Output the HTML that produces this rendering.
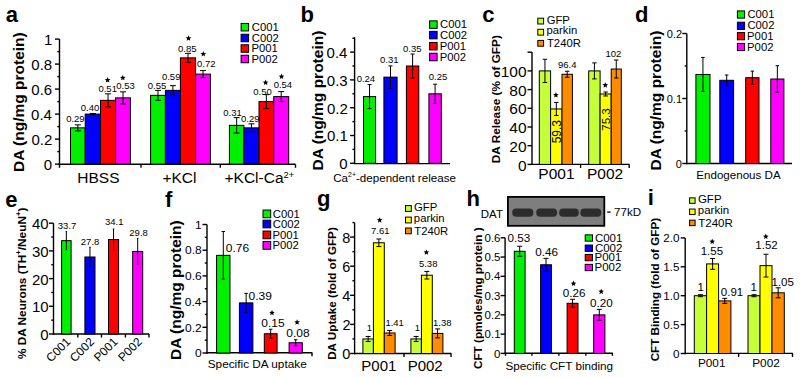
<!DOCTYPE html>
<html><head><meta charset="utf-8"><title>Figure</title>
<style>
html,body{margin:0;padding:0;background:#fff;}
svg{display:block;}
text{font-family:"Liberation Sans", sans-serif;}
</style></head>
<body>
<svg width="800" height="378" viewBox="0 0 800 378" font-family='"Liberation Sans", sans-serif'>
<rect x="0" y="0" width="800" height="378" fill="#fff"/>
<text transform="translate(5.86,22.3)" font-size="22" font-weight="bold" fill="#000" >a</text>
<line x1="59.5" y1="39.1" x2="59.5" y2="164.8" stroke="#000" stroke-width="1.4"/>
<line x1="55" y1="164.1" x2="59.5" y2="164.1" stroke="#000" stroke-width="1.4"/>
<line x1="55" y1="139.1" x2="59.5" y2="139.1" stroke="#000" stroke-width="1.4"/>
<line x1="55" y1="114.1" x2="59.5" y2="114.1" stroke="#000" stroke-width="1.4"/>
<line x1="55" y1="89.1" x2="59.5" y2="89.1" stroke="#000" stroke-width="1.4"/>
<line x1="55" y1="64.1" x2="59.5" y2="64.1" stroke="#000" stroke-width="1.4"/>
<line x1="55" y1="39.1" x2="59.5" y2="39.1" stroke="#000" stroke-width="1.4"/>
<line x1="57.3" y1="151.6" x2="59.5" y2="151.6" stroke="#000" stroke-width="1.4"/>
<line x1="57.3" y1="126.6" x2="59.5" y2="126.6" stroke="#000" stroke-width="1.4"/>
<line x1="57.3" y1="101.6" x2="59.5" y2="101.6" stroke="#000" stroke-width="1.4"/>
<line x1="57.3" y1="76.6" x2="59.5" y2="76.6" stroke="#000" stroke-width="1.4"/>
<line x1="57.3" y1="51.6" x2="59.5" y2="51.6" stroke="#000" stroke-width="1.4"/>
<text transform="translate(43.74,170.08)" font-size="15" font-weight="normal" fill="#000" >0</text>
<text transform="translate(31.4,145.08)" font-size="15" font-weight="normal" fill="#000" >0.2</text>
<text transform="translate(31.09,120.08)" font-size="15" font-weight="normal" fill="#000" >0.4</text>
<text transform="translate(31.31,95.08)" font-size="15" font-weight="normal" fill="#000" >0.6</text>
<text transform="translate(31.3,70.08)" font-size="15" font-weight="normal" fill="#000" >0.8</text>
<text transform="translate(43.89,45.08)" font-size="15" font-weight="normal" fill="#000" >1</text>
<line x1="58.8" y1="164.3" x2="295.5" y2="164.3" stroke="#000" stroke-width="1.4"/>
<line x1="59.5" y1="164.3" x2="59.5" y2="167.8" stroke="#000" stroke-width="1.4"/>
<line x1="141" y1="164.3" x2="141" y2="167.8" stroke="#000" stroke-width="1.4"/>
<line x1="220.3" y1="164.3" x2="220.3" y2="167.8" stroke="#000" stroke-width="1.4"/>
<line x1="295.5" y1="164.3" x2="295.5" y2="167.8" stroke="#000" stroke-width="1.4"/>
<rect x="70.5" y="127.85" width="14.7" height="36.25" fill="#00f000" stroke="#000" stroke-width="1"/>
<line x1="77.85" y1="124.85" x2="77.85" y2="130.85" stroke="#000" stroke-width="1"/>
<line x1="74.85" y1="124.85" x2="80.85" y2="124.85" stroke="#000" stroke-width="1"/>
<line x1="74.85" y1="130.85" x2="80.85" y2="130.85" stroke="#000" stroke-width="1"/>
<rect x="85.2" y="114.1" width="15.3" height="50" fill="#0000ff" stroke="#000" stroke-width="1"/>
<line x1="92.85" y1="113.5" x2="92.85" y2="114.7" stroke="#000" stroke-width="1"/>
<line x1="89.85" y1="113.5" x2="95.85" y2="113.5" stroke="#000" stroke-width="1"/>
<line x1="89.85" y1="114.7" x2="95.85" y2="114.7" stroke="#000" stroke-width="1"/>
<rect x="100.5" y="100.35" width="15.1" height="63.75" fill="#ff0000" stroke="#000" stroke-width="1"/>
<line x1="108.05" y1="93.85" x2="108.05" y2="106.85" stroke="#000" stroke-width="1"/>
<line x1="105.05" y1="93.85" x2="111.05" y2="93.85" stroke="#000" stroke-width="1"/>
<line x1="105.05" y1="106.85" x2="111.05" y2="106.85" stroke="#000" stroke-width="1"/>
<rect x="115.6" y="97.85" width="14.8" height="66.25" fill="#ff00ff" stroke="#000" stroke-width="1"/>
<line x1="123" y1="91.85" x2="123" y2="103.85" stroke="#000" stroke-width="1"/>
<line x1="120" y1="91.85" x2="126" y2="91.85" stroke="#000" stroke-width="1"/>
<line x1="120" y1="103.85" x2="126" y2="103.85" stroke="#000" stroke-width="1"/>
<rect x="150.6" y="95.35" width="14.8" height="68.75" fill="#00f000" stroke="#000" stroke-width="1"/>
<line x1="158" y1="90.35" x2="158" y2="100.35" stroke="#000" stroke-width="1"/>
<line x1="155" y1="90.35" x2="161" y2="90.35" stroke="#000" stroke-width="1"/>
<line x1="155" y1="100.35" x2="161" y2="100.35" stroke="#000" stroke-width="1"/>
<rect x="165.4" y="90.35" width="15" height="73.75" fill="#0000ff" stroke="#000" stroke-width="1"/>
<line x1="172.9" y1="85.65" x2="172.9" y2="95.05" stroke="#000" stroke-width="1"/>
<line x1="169.9" y1="85.65" x2="175.9" y2="85.65" stroke="#000" stroke-width="1"/>
<line x1="169.9" y1="95.05" x2="175.9" y2="95.05" stroke="#000" stroke-width="1"/>
<rect x="180.4" y="57.85" width="15.2" height="106.25" fill="#ff0000" stroke="#000" stroke-width="1"/>
<line x1="188" y1="53.35" x2="188" y2="62.35" stroke="#000" stroke-width="1"/>
<line x1="185" y1="53.35" x2="191" y2="53.35" stroke="#000" stroke-width="1"/>
<line x1="185" y1="62.35" x2="191" y2="62.35" stroke="#000" stroke-width="1"/>
<rect x="195.6" y="74.1" width="14.8" height="90" fill="#ff00ff" stroke="#000" stroke-width="1"/>
<line x1="203" y1="70.6" x2="203" y2="77.6" stroke="#000" stroke-width="1"/>
<line x1="200" y1="70.6" x2="206" y2="70.6" stroke="#000" stroke-width="1"/>
<line x1="200" y1="77.6" x2="206" y2="77.6" stroke="#000" stroke-width="1"/>
<rect x="229.4" y="125.35" width="14.5" height="38.75" fill="#00f000" stroke="#000" stroke-width="1"/>
<line x1="236.65" y1="117.65" x2="236.65" y2="133.05" stroke="#000" stroke-width="1"/>
<line x1="233.65" y1="117.65" x2="239.65" y2="117.65" stroke="#000" stroke-width="1"/>
<line x1="233.65" y1="133.05" x2="239.65" y2="133.05" stroke="#000" stroke-width="1"/>
<rect x="243.9" y="127.85" width="15.1" height="36.25" fill="#0000ff" stroke="#000" stroke-width="1"/>
<line x1="251.45" y1="123.85" x2="251.45" y2="131.85" stroke="#000" stroke-width="1"/>
<line x1="248.45" y1="123.85" x2="254.45" y2="123.85" stroke="#000" stroke-width="1"/>
<line x1="248.45" y1="131.85" x2="254.45" y2="131.85" stroke="#000" stroke-width="1"/>
<rect x="259" y="101.6" width="14.7" height="62.5" fill="#ff0000" stroke="#000" stroke-width="1"/>
<line x1="266.35" y1="94.6" x2="266.35" y2="108.6" stroke="#000" stroke-width="1"/>
<line x1="263.35" y1="94.6" x2="269.35" y2="94.6" stroke="#000" stroke-width="1"/>
<line x1="263.35" y1="108.6" x2="269.35" y2="108.6" stroke="#000" stroke-width="1"/>
<rect x="273.7" y="96.6" width="15" height="67.5" fill="#ff00ff" stroke="#000" stroke-width="1"/>
<line x1="281.2" y1="91.6" x2="281.2" y2="101.6" stroke="#000" stroke-width="1"/>
<line x1="278.2" y1="91.6" x2="284.2" y2="91.6" stroke="#000" stroke-width="1"/>
<line x1="278.2" y1="101.6" x2="284.2" y2="101.6" stroke="#000" stroke-width="1"/>
<text transform="translate(66.13,122.3)" font-size="9.5" font-weight="normal" fill="#000" >0.29</text>
<text transform="translate(80.73,110.6)" font-size="9.5" font-weight="normal" fill="#000" >0.40</text>
<text transform="translate(98.43,91.7)" font-size="9.5" font-weight="normal" fill="#000" >0.51</text>
<text transform="translate(116.23,89.4)" font-size="9.5" font-weight="normal" fill="#000" >0.53</text>
<text transform="translate(147.83,88.5)" font-size="9.5" font-weight="normal" fill="#000" >0.55</text>
<text transform="translate(161.93,80.2)" font-size="9.5" font-weight="normal" fill="#000" >0.59</text>
<text transform="translate(178.03,51.5)" font-size="9.5" font-weight="normal" fill="#000" >0.85</text>
<text transform="translate(197.03,67)" font-size="9.5" font-weight="normal" fill="#000" >0.72</text>
<text transform="translate(223.33,115.9)" font-size="9.5" font-weight="normal" fill="#000" >0.31</text>
<text transform="translate(241.03,121.5)" font-size="9.5" font-weight="normal" fill="#000" >0.29</text>
<text transform="translate(253.33,95)" font-size="9.5" font-weight="normal" fill="#000" >0.50</text>
<text transform="translate(273.63,87.9)" font-size="9.5" font-weight="normal" fill="#000" >0.54</text>
<polygon points="107.6,77.1 108.39,79.01 110.45,79.17 108.88,80.52 109.36,82.53 107.6,81.45 105.84,82.53 106.32,80.52 104.75,79.17 106.81,79.01" fill="#000"/>
<polygon points="122.8,74.9 123.59,76.81 125.65,76.97 124.08,78.32 124.56,80.33 122.8,79.25 121.04,80.33 121.52,78.32 119.95,76.97 122.01,76.81" fill="#000"/>
<polygon points="188.5,35.3 189.29,37.21 191.35,37.37 189.78,38.72 190.26,40.73 188.5,39.65 186.74,40.73 187.22,38.72 185.65,37.37 187.71,37.21" fill="#000"/>
<polygon points="203.3,51 204.09,52.91 206.15,53.07 204.58,54.42 205.06,56.43 203.3,55.35 201.54,56.43 202.02,54.42 200.45,53.07 202.51,52.91" fill="#000"/>
<polygon points="265.6,79.6 266.39,81.51 268.45,81.67 266.88,83.02 267.36,85.03 265.6,83.95 263.84,85.03 264.32,83.02 262.75,81.67 264.81,81.51" fill="#000"/>
<polygon points="281.5,73.6 282.29,75.51 284.35,75.67 282.78,77.02 283.26,79.03 281.5,77.95 279.74,79.03 280.22,77.02 278.65,75.67 280.71,75.51" fill="#000"/>
<rect x="241.1" y="23.45" width="7.5" height="7.5" fill="#00f000" stroke="#000" stroke-width="1"/>
<text transform="translate(251.83,30.82) scale(1,0.93)" font-size="11.3" font-weight="normal" fill="#000" >C001</text>
<rect x="241.1" y="34.25" width="7.5" height="7.5" fill="#0000ff" stroke="#000" stroke-width="1"/>
<text transform="translate(251.83,41.62) scale(1,0.93)" font-size="11.3" font-weight="normal" fill="#000" >C002</text>
<rect x="241.1" y="44.75" width="7.5" height="7.5" fill="#ff0000" stroke="#000" stroke-width="1"/>
<text transform="translate(251.47,52.12) scale(1,0.93)" font-size="11.3" font-weight="normal" fill="#000" >P001</text>
<rect x="241.1" y="55.25" width="7.5" height="7.5" fill="#ff00ff" stroke="#000" stroke-width="1"/>
<text transform="translate(251.47,62.62) scale(1,0.93)" font-size="11.3" font-weight="normal" fill="#000" >P002</text>
<text transform="translate(77.33,182.5)" font-size="15.5" font-weight="normal" fill="#000" >HBSS</text>
<text transform="translate(162.44,182.5)" font-size="15.5" font-weight="normal" fill="#000" >+KCl</text>
<text transform="translate(224.54,182.5)" font-size="15.5" font-weight="normal"><tspan>+KCl-Ca</tspan><tspan font-size="9.3" dy="-4.34">2+</tspan></text>
<text transform="translate(23.6,171) rotate(-90) scale(1,1)" x="-1.04" y="0" font-size="15.5" font-weight="bold">DA (ng/mg protein)</text>
<text transform="translate(300.55,22.4)" font-size="22" font-weight="bold" fill="#000" >b</text>
<line x1="354.6" y1="37.2" x2="354.6" y2="164" stroke="#000" stroke-width="1.4"/>
<line x1="350.1" y1="163.3" x2="354.6" y2="163.3" stroke="#000" stroke-width="1.4"/>
<line x1="350.1" y1="135.5" x2="354.6" y2="135.5" stroke="#000" stroke-width="1.4"/>
<line x1="350.1" y1="107.7" x2="354.6" y2="107.7" stroke="#000" stroke-width="1.4"/>
<line x1="350.1" y1="79.9" x2="354.6" y2="79.9" stroke="#000" stroke-width="1.4"/>
<line x1="350.1" y1="52.1" x2="354.6" y2="52.1" stroke="#000" stroke-width="1.4"/>
<line x1="352.4" y1="149.4" x2="354.6" y2="149.4" stroke="#000" stroke-width="1.4"/>
<line x1="352.4" y1="121.6" x2="354.6" y2="121.6" stroke="#000" stroke-width="1.4"/>
<line x1="352.4" y1="93.8" x2="354.6" y2="93.8" stroke="#000" stroke-width="1.4"/>
<line x1="352.4" y1="66" x2="354.6" y2="66" stroke="#000" stroke-width="1.4"/>
<line x1="352.4" y1="38.2" x2="354.6" y2="38.2" stroke="#000" stroke-width="1.4"/>
<text transform="translate(339.24,169.29)" font-size="15" font-weight="normal" fill="#000" >0</text>
<text transform="translate(326.88,141.49)" font-size="15" font-weight="normal" fill="#000" >0.1</text>
<text transform="translate(326.9,113.69)" font-size="15" font-weight="normal" fill="#000" >0.2</text>
<text transform="translate(326.81,85.89)" font-size="15" font-weight="normal" fill="#000" >0.3</text>
<text transform="translate(326.59,58.09)" font-size="15" font-weight="normal" fill="#000" >0.4</text>
<line x1="353.9" y1="163.6" x2="450.1" y2="163.6" stroke="#000" stroke-width="1.4"/>
<rect x="363.5" y="96.58" width="12.1" height="66.72" fill="#00f000" stroke="#000" stroke-width="1"/>
<line x1="369.55" y1="84.58" x2="369.55" y2="108.58" stroke="#000" stroke-width="1"/>
<line x1="367.55" y1="84.58" x2="371.55" y2="84.58" stroke="#000" stroke-width="1"/>
<line x1="367.55" y1="108.58" x2="371.55" y2="108.58" stroke="#000" stroke-width="1"/>
<rect x="383.9" y="77.12" width="13.2" height="86.18" fill="#0000ff" stroke="#000" stroke-width="1"/>
<line x1="390.5" y1="65.92" x2="390.5" y2="88.32" stroke="#000" stroke-width="1"/>
<line x1="388.5" y1="65.92" x2="392.5" y2="65.92" stroke="#000" stroke-width="1"/>
<line x1="388.5" y1="88.32" x2="392.5" y2="88.32" stroke="#000" stroke-width="1"/>
<rect x="406.4" y="66" width="12.4" height="97.3" fill="#ff0000" stroke="#000" stroke-width="1"/>
<line x1="412.6" y1="54" x2="412.6" y2="78" stroke="#000" stroke-width="1"/>
<line x1="410.6" y1="54" x2="414.6" y2="54" stroke="#000" stroke-width="1"/>
<line x1="410.6" y1="78" x2="414.6" y2="78" stroke="#000" stroke-width="1"/>
<rect x="428.9" y="93.8" width="12.4" height="69.5" fill="#ff00ff" stroke="#000" stroke-width="1"/>
<line x1="435.1" y1="84.2" x2="435.1" y2="103.4" stroke="#000" stroke-width="1"/>
<line x1="433.1" y1="84.2" x2="437.1" y2="84.2" stroke="#000" stroke-width="1"/>
<line x1="433.1" y1="103.4" x2="437.1" y2="103.4" stroke="#000" stroke-width="1"/>
<text transform="translate(356.63,81.7)" font-size="9.5" font-weight="normal" fill="#000" >0.24</text>
<text transform="translate(380.03,62.8)" font-size="9.5" font-weight="normal" fill="#000" >0.31</text>
<text transform="translate(403.03,52)" font-size="9.5" font-weight="normal" fill="#000" >0.35</text>
<text transform="translate(428.73,80.4)" font-size="9.5" font-weight="normal" fill="#000" >0.25</text>
<rect x="429.6" y="20.85" width="7.5" height="7.5" fill="#00f000" stroke="#000" stroke-width="1"/>
<text transform="translate(440.03,28.22) scale(1,0.93)" font-size="11.3" font-weight="normal" fill="#000" >C001</text>
<rect x="429.6" y="31.35" width="7.5" height="7.5" fill="#0000ff" stroke="#000" stroke-width="1"/>
<text transform="translate(440.03,38.72) scale(1,0.93)" font-size="11.3" font-weight="normal" fill="#000" >C002</text>
<rect x="429.6" y="42.45" width="7.5" height="7.5" fill="#ff0000" stroke="#000" stroke-width="1"/>
<text transform="translate(439.67,49.82) scale(1,0.93)" font-size="11.3" font-weight="normal" fill="#000" >P001</text>
<rect x="429.6" y="53.25" width="7.5" height="7.5" fill="#ff00ff" stroke="#000" stroke-width="1"/>
<text transform="translate(439.67,60.62) scale(1,0.93)" font-size="11.3" font-weight="normal" fill="#000" >P002</text>
<text transform="translate(333.21,181.5)" font-size="11.6" font-weight="normal"><tspan>Ca</tspan><tspan font-size="6.96" dy="-4.18">2+</tspan><tspan dy="4.18">-dependent release</tspan></text>
<text transform="translate(322.6,169.4) rotate(-90) scale(1,1)" x="-1.04" y="0" font-size="15.5" font-weight="bold">DA (ng/mg protein)</text>
<text transform="translate(482.14,22.2)" font-size="22" font-weight="bold" fill="#000" >c</text>
<line x1="532" y1="52" x2="532" y2="165.1" stroke="#000" stroke-width="1.4"/>
<line x1="527.5" y1="164.4" x2="532" y2="164.4" stroke="#000" stroke-width="1.4"/>
<line x1="527.5" y1="145.7" x2="532" y2="145.7" stroke="#000" stroke-width="1.4"/>
<line x1="527.5" y1="127" x2="532" y2="127" stroke="#000" stroke-width="1.4"/>
<line x1="527.5" y1="108.3" x2="532" y2="108.3" stroke="#000" stroke-width="1.4"/>
<line x1="527.5" y1="89.6" x2="532" y2="89.6" stroke="#000" stroke-width="1.4"/>
<line x1="527.5" y1="70.9" x2="532" y2="70.9" stroke="#000" stroke-width="1.4"/>
<line x1="527.5" y1="52.2" x2="532" y2="52.2" stroke="#000" stroke-width="1.4"/>
<text transform="translate(517.99,170.58)" font-size="15.5" font-weight="normal" fill="#000" >0</text>
<text transform="translate(509.36,151.88)" font-size="15.5" font-weight="normal" fill="#000" >20</text>
<text transform="translate(509.36,133.18)" font-size="15.5" font-weight="normal" fill="#000" >40</text>
<text transform="translate(509.36,114.48)" font-size="15.5" font-weight="normal" fill="#000" >60</text>
<text transform="translate(509.36,95.78)" font-size="15.5" font-weight="normal" fill="#000" >80</text>
<text transform="translate(500.74,77.08)" font-size="15.5" font-weight="normal" fill="#000" >100</text>
<line x1="531.3" y1="164.4" x2="629.5" y2="164.4" stroke="#000" stroke-width="1.4"/>
<line x1="580.6" y1="164.4" x2="580.6" y2="167.9" stroke="#000" stroke-width="1.4"/>
<line x1="629.2" y1="164.4" x2="629.2" y2="167.9" stroke="#000" stroke-width="1.4"/>
<rect x="539.3" y="70.9" width="11.3" height="93.5" fill="#c4ff3a" stroke="#000" stroke-width="1"/>
<line x1="544.95" y1="59.3" x2="544.95" y2="82.5" stroke="#000" stroke-width="1"/>
<line x1="542.7" y1="59.3" x2="547.2" y2="59.3" stroke="#000" stroke-width="1"/>
<line x1="542.7" y1="82.5" x2="547.2" y2="82.5" stroke="#000" stroke-width="1"/>
<rect x="550.6" y="108.95" width="11.4" height="55.45" fill="#ffff00" stroke="#000" stroke-width="1"/>
<line x1="556.3" y1="102.45" x2="556.3" y2="115.45" stroke="#000" stroke-width="1"/>
<line x1="554.05" y1="102.45" x2="558.55" y2="102.45" stroke="#000" stroke-width="1"/>
<line x1="554.05" y1="115.45" x2="558.55" y2="115.45" stroke="#000" stroke-width="1"/>
<rect x="562" y="74.27" width="10.4" height="90.13" fill="#ff8c00" stroke="#000" stroke-width="1"/>
<line x1="567.2" y1="71.27" x2="567.2" y2="77.27" stroke="#000" stroke-width="1"/>
<line x1="564.95" y1="71.27" x2="569.45" y2="71.27" stroke="#000" stroke-width="1"/>
<line x1="564.95" y1="77.27" x2="569.45" y2="77.27" stroke="#000" stroke-width="1"/>
<rect x="588.7" y="70.9" width="11.4" height="93.5" fill="#c4ff3a" stroke="#000" stroke-width="1"/>
<line x1="594.4" y1="62.9" x2="594.4" y2="78.9" stroke="#000" stroke-width="1"/>
<line x1="592.15" y1="62.9" x2="596.65" y2="62.9" stroke="#000" stroke-width="1"/>
<line x1="592.15" y1="78.9" x2="596.65" y2="78.9" stroke="#000" stroke-width="1"/>
<rect x="600.1" y="93.99" width="11.1" height="70.41" fill="#ffff00" stroke="#000" stroke-width="1"/>
<line x1="605.65" y1="91.99" x2="605.65" y2="95.99" stroke="#000" stroke-width="1"/>
<line x1="603.4" y1="91.99" x2="607.9" y2="91.99" stroke="#000" stroke-width="1"/>
<line x1="603.4" y1="95.99" x2="607.9" y2="95.99" stroke="#000" stroke-width="1"/>
<rect x="611.2" y="69.03" width="10.1" height="95.37" fill="#ff8c00" stroke="#000" stroke-width="1"/>
<line x1="616.25" y1="60.03" x2="616.25" y2="78.03" stroke="#000" stroke-width="1"/>
<line x1="614" y1="60.03" x2="618.5" y2="60.03" stroke="#000" stroke-width="1"/>
<line x1="614" y1="78.03" x2="618.5" y2="78.03" stroke="#000" stroke-width="1"/>
<text transform="translate(557.95,68.4)" font-size="9.5" font-weight="normal" fill="#000" >96.4</text>
<text transform="translate(605.48,57.3)" font-size="9.5" font-weight="normal" fill="#000" >102</text>
<text transform="translate(560.6,142.9) rotate(-90) scale(1,1)" x="-0.48" y="0" font-size="12" font-weight="normal">59.3</text>
<text transform="translate(610.3,130.2) rotate(-90) scale(1,1)" x="-0.59" y="0" font-size="11.6" font-weight="normal">75.3</text>
<polygon points="555.9,92.1 556.69,94.01 558.75,94.17 557.18,95.52 557.66,97.53 555.9,96.45 554.14,97.53 554.62,95.52 553.05,94.17 555.11,94.01" fill="#000"/>
<polygon points="605.3,82.2 606.09,84.11 608.15,84.27 606.58,85.62 607.06,87.63 605.3,86.55 603.54,87.63 604.02,85.62 602.45,84.27 604.51,84.11" fill="#000"/>
<rect x="537.8" y="18.2" width="5.8" height="5.8" fill="#c4ff3a" stroke="#000" stroke-width="1"/>
<text transform="translate(546.63,24)" font-size="11.3" font-weight="normal" fill="#000" >GFP</text>
<rect x="537.8" y="29.3" width="5.8" height="5.8" fill="#ffff00" stroke="#000" stroke-width="1"/>
<text transform="translate(546.47,34.3)" font-size="11.3" font-weight="normal" fill="#000" >parkin</text>
<rect x="537.8" y="40.4" width="5.8" height="5.8" fill="#ff8c00" stroke="#000" stroke-width="1"/>
<text transform="translate(546.95,47.3)" font-size="11.3" font-weight="normal" fill="#000" >T240R</text>
<text transform="translate(538.33,179)" font-size="15.5" font-weight="normal" fill="#000" >P001</text>
<text transform="translate(586.93,179)" font-size="15.5" font-weight="normal" fill="#000" >P002</text>
<text transform="translate(500.2,162.4) rotate(-90) scale(1,1)" x="-0.79" y="0" font-size="11.8" font-weight="bold">DA Release (% of GFP)</text>
<text transform="translate(635.1,22.2)" font-size="22" font-weight="bold" fill="#000" >d</text>
<line x1="686.8" y1="33.5" x2="686.8" y2="164.2" stroke="#000" stroke-width="1.4"/>
<line x1="682.3" y1="163.5" x2="686.8" y2="163.5" stroke="#000" stroke-width="1.4"/>
<line x1="682.3" y1="98.5" x2="686.8" y2="98.5" stroke="#000" stroke-width="1.4"/>
<line x1="682.3" y1="33.5" x2="686.8" y2="33.5" stroke="#000" stroke-width="1.4"/>
<line x1="684.6" y1="131" x2="686.8" y2="131" stroke="#000" stroke-width="1.4"/>
<line x1="684.6" y1="66" x2="686.8" y2="66" stroke="#000" stroke-width="1.4"/>
<text transform="translate(675.81,167.89)" font-size="11" font-weight="normal" fill="#000" >0</text>
<text transform="translate(666.75,102.89)" font-size="11" font-weight="normal" fill="#000" >0.1</text>
<text transform="translate(666.76,37.89)" font-size="11" font-weight="normal" fill="#000" >0.2</text>
<line x1="686.1" y1="163.5" x2="792" y2="163.5" stroke="#000" stroke-width="1.4"/>
<rect x="695.9" y="74.45" width="14.1" height="89.05" fill="#00f000" stroke="#000" stroke-width="1"/>
<line x1="702.95" y1="57.45" x2="702.95" y2="91.45" stroke="#000" stroke-width="1"/>
<line x1="701.2" y1="57.45" x2="704.7" y2="57.45" stroke="#000" stroke-width="1"/>
<line x1="701.2" y1="91.45" x2="704.7" y2="91.45" stroke="#000" stroke-width="1"/>
<rect x="719.8" y="80.3" width="13.8" height="83.2" fill="#0000ff" stroke="#000" stroke-width="1"/>
<line x1="726.7" y1="75" x2="726.7" y2="85.6" stroke="#000" stroke-width="1"/>
<line x1="724.95" y1="75" x2="728.45" y2="75" stroke="#000" stroke-width="1"/>
<line x1="724.95" y1="85.6" x2="728.45" y2="85.6" stroke="#000" stroke-width="1"/>
<rect x="745.7" y="77.7" width="13.3" height="85.8" fill="#ff0000" stroke="#000" stroke-width="1"/>
<line x1="752.35" y1="71.1" x2="752.35" y2="84.3" stroke="#000" stroke-width="1"/>
<line x1="750.6" y1="71.1" x2="754.1" y2="71.1" stroke="#000" stroke-width="1"/>
<line x1="750.6" y1="84.3" x2="754.1" y2="84.3" stroke="#000" stroke-width="1"/>
<rect x="770.8" y="79" width="13.1" height="84.5" fill="#ff00ff" stroke="#000" stroke-width="1"/>
<line x1="777.35" y1="65.7" x2="777.35" y2="92.3" stroke="#000" stroke-width="1"/>
<line x1="775.6" y1="65.7" x2="779.1" y2="65.7" stroke="#000" stroke-width="1"/>
<line x1="775.6" y1="92.3" x2="779.1" y2="92.3" stroke="#000" stroke-width="1"/>
<rect x="737.4" y="10.9" width="7.2" height="7.2" fill="#00f000" stroke="#000" stroke-width="1"/>
<text transform="translate(747.43,18.12) scale(1,0.93)" font-size="11.3" font-weight="normal" fill="#000" >C001</text>
<rect x="737.4" y="22.2" width="7.2" height="7.2" fill="#0000ff" stroke="#000" stroke-width="1"/>
<text transform="translate(747.43,29.42) scale(1,0.93)" font-size="11.3" font-weight="normal" fill="#000" >C002</text>
<rect x="737.4" y="32.6" width="7.2" height="7.2" fill="#ff0000" stroke="#000" stroke-width="1"/>
<text transform="translate(747.07,39.82) scale(1,0.93)" font-size="11.3" font-weight="normal" fill="#000" >P001</text>
<rect x="737.4" y="43.4" width="7.2" height="7.2" fill="#ff00ff" stroke="#000" stroke-width="1"/>
<text transform="translate(747.07,50.62) scale(1,0.93)" font-size="11.3" font-weight="normal" fill="#000" >P002</text>
<text transform="translate(696.25,178.6)" font-size="11.6" font-weight="normal" fill="#000" >Endogenous DA</text>
<text transform="translate(661.3,169.4) rotate(-90) scale(1,1)" x="-1.04" y="0" font-size="15.5" font-weight="bold">DA (ng/mg protein)</text>
<text transform="translate(5.14,207.2)" font-size="22" font-weight="bold" fill="#000" >e</text>
<line x1="53.5" y1="223.2" x2="53.5" y2="334.7" stroke="#000" stroke-width="1.4"/>
<line x1="49" y1="334" x2="53.5" y2="334" stroke="#000" stroke-width="1.4"/>
<line x1="49" y1="306.3" x2="53.5" y2="306.3" stroke="#000" stroke-width="1.4"/>
<line x1="49" y1="278.6" x2="53.5" y2="278.6" stroke="#000" stroke-width="1.4"/>
<line x1="49" y1="250.9" x2="53.5" y2="250.9" stroke="#000" stroke-width="1.4"/>
<line x1="49" y1="223.2" x2="53.5" y2="223.2" stroke="#000" stroke-width="1.4"/>
<line x1="51.3" y1="320.15" x2="53.5" y2="320.15" stroke="#000" stroke-width="1.4"/>
<line x1="51.3" y1="292.45" x2="53.5" y2="292.45" stroke="#000" stroke-width="1.4"/>
<line x1="51.3" y1="264.75" x2="53.5" y2="264.75" stroke="#000" stroke-width="1.4"/>
<line x1="51.3" y1="237.05" x2="53.5" y2="237.05" stroke="#000" stroke-width="1.4"/>
<text transform="translate(40.34,339.99)" font-size="15" font-weight="normal" fill="#000" >0</text>
<text transform="translate(32,312.29)" font-size="15" font-weight="normal" fill="#000" >10</text>
<text transform="translate(32,284.59)" font-size="15" font-weight="normal" fill="#000" >20</text>
<text transform="translate(32,256.88)" font-size="15" font-weight="normal" fill="#000" >30</text>
<text transform="translate(32,229.19)" font-size="15" font-weight="normal" fill="#000" >40</text>
<line x1="52.8" y1="334" x2="149.1" y2="334" stroke="#000" stroke-width="1.4"/>
<line x1="77.8" y1="334" x2="77.8" y2="337.5" stroke="#000" stroke-width="1.4"/>
<line x1="101.5" y1="334" x2="101.5" y2="337.5" stroke="#000" stroke-width="1.4"/>
<line x1="125.4" y1="334" x2="125.4" y2="337.5" stroke="#000" stroke-width="1.4"/>
<line x1="149" y1="334" x2="149" y2="337.5" stroke="#000" stroke-width="1.4"/>
<rect x="61.6" y="240.65" width="9.5" height="93.35" fill="#00f000" stroke="#000" stroke-width="1"/>
<line x1="66.35" y1="231.65" x2="66.35" y2="249.65" stroke="#000" stroke-width="1"/>
<line x1="65.6" y1="231.65" x2="67.1" y2="231.65" stroke="#000" stroke-width="1"/>
<line x1="65.6" y1="249.65" x2="67.1" y2="249.65" stroke="#000" stroke-width="1"/>
<rect x="84.9" y="256.99" width="10.1" height="77.01" fill="#0000ff" stroke="#000" stroke-width="1"/>
<line x1="89.95" y1="247.29" x2="89.95" y2="266.69" stroke="#000" stroke-width="1"/>
<line x1="89.2" y1="247.29" x2="90.7" y2="247.29" stroke="#000" stroke-width="1"/>
<line x1="89.2" y1="266.69" x2="90.7" y2="266.69" stroke="#000" stroke-width="1"/>
<rect x="108.5" y="239.54" width="10.1" height="94.46" fill="#ff0000" stroke="#000" stroke-width="1"/>
<line x1="113.55" y1="229.04" x2="113.55" y2="250.04" stroke="#000" stroke-width="1"/>
<line x1="112.8" y1="229.04" x2="114.3" y2="229.04" stroke="#000" stroke-width="1"/>
<line x1="112.8" y1="250.04" x2="114.3" y2="250.04" stroke="#000" stroke-width="1"/>
<rect x="132.7" y="251.45" width="10" height="82.55" fill="#ff00ff" stroke="#000" stroke-width="1"/>
<line x1="137.7" y1="238.45" x2="137.7" y2="264.45" stroke="#000" stroke-width="1"/>
<line x1="136.95" y1="238.45" x2="138.45" y2="238.45" stroke="#000" stroke-width="1"/>
<line x1="136.95" y1="264.45" x2="138.45" y2="264.45" stroke="#000" stroke-width="1"/>
<text transform="translate(57.84,229)" font-size="9.5" font-weight="normal" fill="#000" >33.7</text>
<text transform="translate(80.82,244.8)" font-size="9.5" font-weight="normal" fill="#000" >27.8</text>
<text transform="translate(105.04,225.2)" font-size="9.5" font-weight="normal" fill="#000" >34.1</text>
<text transform="translate(129.32,235.8)" font-size="9.5" font-weight="normal" fill="#000" >29.8</text>
<text transform="translate(71.3,342.5) rotate(-45)" text-anchor="end" font-size="12">C001</text>
<text transform="translate(95,342.5) rotate(-45)" text-anchor="end" font-size="12">C002</text>
<text transform="translate(118.5,342.5) rotate(-45)" text-anchor="end" font-size="12">P001</text>
<text transform="translate(142.7,342.5) rotate(-45)" text-anchor="end" font-size="12">P002</text>
<text transform="translate(26,358.8) rotate(-90)" x="-0.29" y="0" font-size="11.8" font-weight="bold"><tspan>% DA Neurons (TH</tspan><tspan font-size="7.67" dy="-4.72">+</tspan><tspan dy="4.72">/NeuN</tspan><tspan font-size="7.67" dy="-4.72">+</tspan><tspan dy="4.72">)</tspan></text>
<text transform="translate(165.12,207.2)" font-size="22" font-weight="bold" fill="#000" >f</text>
<line x1="207" y1="224.5" x2="207" y2="353.7" stroke="#000" stroke-width="1.4"/>
<line x1="202.5" y1="353" x2="207" y2="353" stroke="#000" stroke-width="1.4"/>
<line x1="202.5" y1="327.3" x2="207" y2="327.3" stroke="#000" stroke-width="1.4"/>
<line x1="202.5" y1="301.6" x2="207" y2="301.6" stroke="#000" stroke-width="1.4"/>
<line x1="202.5" y1="275.9" x2="207" y2="275.9" stroke="#000" stroke-width="1.4"/>
<line x1="202.5" y1="250.2" x2="207" y2="250.2" stroke="#000" stroke-width="1.4"/>
<line x1="202.5" y1="224.5" x2="207" y2="224.5" stroke="#000" stroke-width="1.4"/>
<line x1="204.8" y1="340.15" x2="207" y2="340.15" stroke="#000" stroke-width="1.4"/>
<line x1="204.8" y1="314.45" x2="207" y2="314.45" stroke="#000" stroke-width="1.4"/>
<line x1="204.8" y1="288.75" x2="207" y2="288.75" stroke="#000" stroke-width="1.4"/>
<line x1="204.8" y1="263.05" x2="207" y2="263.05" stroke="#000" stroke-width="1.4"/>
<line x1="204.8" y1="237.35" x2="207" y2="237.35" stroke="#000" stroke-width="1.4"/>
<text transform="translate(194.99,357.29) scale(1,0.88)" font-size="12" font-weight="normal" fill="#000" >0</text>
<text transform="translate(185.12,331.59) scale(1,0.88)" font-size="12" font-weight="normal" fill="#000" >0.2</text>
<text transform="translate(184.87,305.89) scale(1,0.88)" font-size="12" font-weight="normal" fill="#000" >0.4</text>
<text transform="translate(185.05,280.19) scale(1,0.88)" font-size="12" font-weight="normal" fill="#000" >0.6</text>
<text transform="translate(185.04,254.49) scale(1,0.88)" font-size="12" font-weight="normal" fill="#000" >0.8</text>
<text transform="translate(195.11,228.79) scale(1,0.88)" font-size="12" font-weight="normal" fill="#000" >1</text>
<line x1="206.3" y1="352.8" x2="312.3" y2="352.8" stroke="#000" stroke-width="1.4"/>
<line x1="312" y1="352.8" x2="312" y2="356.3" stroke="#000" stroke-width="1.4"/>
<rect x="216.6" y="255.34" width="13.4" height="97.66" fill="#00f000" stroke="#000" stroke-width="1"/>
<line x1="223.3" y1="231.54" x2="223.3" y2="279.14" stroke="#000" stroke-width="1"/>
<line x1="221.55" y1="231.54" x2="225.05" y2="231.54" stroke="#000" stroke-width="1"/>
<line x1="221.55" y1="279.14" x2="225.05" y2="279.14" stroke="#000" stroke-width="1"/>
<rect x="239.4" y="302.88" width="13.5" height="50.12" fill="#0000ff" stroke="#000" stroke-width="1"/>
<line x1="246.15" y1="293.38" x2="246.15" y2="312.38" stroke="#000" stroke-width="1"/>
<line x1="244.4" y1="293.38" x2="247.9" y2="293.38" stroke="#000" stroke-width="1"/>
<line x1="244.4" y1="312.38" x2="247.9" y2="312.38" stroke="#000" stroke-width="1"/>
<rect x="264.3" y="333.73" width="12.8" height="19.27" fill="#ff0000" stroke="#000" stroke-width="1"/>
<line x1="270.7" y1="329.23" x2="270.7" y2="338.23" stroke="#000" stroke-width="1"/>
<line x1="268.95" y1="329.23" x2="272.45" y2="329.23" stroke="#000" stroke-width="1"/>
<line x1="268.95" y1="338.23" x2="272.45" y2="338.23" stroke="#000" stroke-width="1"/>
<rect x="289.1" y="342.72" width="13.2" height="10.28" fill="#ff00ff" stroke="#000" stroke-width="1"/>
<line x1="295.7" y1="339.72" x2="295.7" y2="345.72" stroke="#000" stroke-width="1"/>
<line x1="293.95" y1="339.72" x2="297.45" y2="339.72" stroke="#000" stroke-width="1"/>
<line x1="293.95" y1="345.72" x2="297.45" y2="345.72" stroke="#000" stroke-width="1"/>
<text transform="translate(225.83,251.6) scale(1,0.9)" font-size="12" font-weight="normal" fill="#000" >0.76</text>
<text transform="translate(248.53,300) scale(1,0.9)" font-size="12" font-weight="normal" fill="#000" >0.39</text>
<text transform="translate(261.33,327.1) scale(1,0.9)" font-size="12" font-weight="normal" fill="#000" >0.15</text>
<text transform="translate(286.23,337.1) scale(1,0.9)" font-size="12" font-weight="normal" fill="#000" >0.08</text>
<polygon points="272,309.9 272.79,311.81 274.85,311.97 273.28,313.32 273.76,315.33 272,314.25 270.24,315.33 270.72,313.32 269.15,311.97 271.21,311.81" fill="#000"/>
<polygon points="297.1,319.3 297.89,321.21 299.95,321.37 298.38,322.72 298.86,324.73 297.1,323.65 295.34,324.73 295.82,322.72 294.25,321.37 296.31,321.21" fill="#000"/>
<rect x="263" y="210.05" width="7.7" height="7.7" fill="#00f000" stroke="#000" stroke-width="1"/>
<text transform="translate(272.83,217.52) scale(1,0.93)" font-size="11.3" font-weight="normal" fill="#000" >C001</text>
<rect x="263" y="220.15" width="7.7" height="7.7" fill="#0000ff" stroke="#000" stroke-width="1"/>
<text transform="translate(272.83,227.62) scale(1,0.93)" font-size="11.3" font-weight="normal" fill="#000" >C002</text>
<rect x="263" y="231.05" width="7.7" height="7.7" fill="#ff0000" stroke="#000" stroke-width="1"/>
<text transform="translate(272.47,238.52) scale(1,0.93)" font-size="11.3" font-weight="normal" fill="#000" >P001</text>
<rect x="263" y="241.55" width="7.7" height="7.7" fill="#ff00ff" stroke="#000" stroke-width="1"/>
<text transform="translate(272.47,249.02) scale(1,0.93)" font-size="11.3" font-weight="normal" fill="#000" >P002</text>
<text transform="translate(207.76,368) scale(1,0.85)" font-size="11.8" font-weight="normal" fill="#000" >Specific DA uptake</text>
<text transform="translate(181,359) rotate(-90) scale(1,1)" x="-1.04" y="0" font-size="15.5" font-weight="bold">DA (ng/mg protein)</text>
<text transform="translate(317.1,205.5)" font-size="22" font-weight="bold" fill="#000" >g</text>
<line x1="354.6" y1="222.7" x2="354.6" y2="354.2" stroke="#000" stroke-width="1.4"/>
<line x1="350.1" y1="353.5" x2="354.6" y2="353.5" stroke="#000" stroke-width="1.4"/>
<line x1="350.1" y1="324.4" x2="354.6" y2="324.4" stroke="#000" stroke-width="1.4"/>
<line x1="350.1" y1="295.3" x2="354.6" y2="295.3" stroke="#000" stroke-width="1.4"/>
<line x1="350.1" y1="266.2" x2="354.6" y2="266.2" stroke="#000" stroke-width="1.4"/>
<line x1="350.1" y1="237.1" x2="354.6" y2="237.1" stroke="#000" stroke-width="1.4"/>
<line x1="352.4" y1="338.95" x2="354.6" y2="338.95" stroke="#000" stroke-width="1.4"/>
<line x1="352.4" y1="309.85" x2="354.6" y2="309.85" stroke="#000" stroke-width="1.4"/>
<line x1="352.4" y1="280.75" x2="354.6" y2="280.75" stroke="#000" stroke-width="1.4"/>
<line x1="352.4" y1="251.65" x2="354.6" y2="251.65" stroke="#000" stroke-width="1.4"/>
<line x1="352.4" y1="222.55" x2="354.6" y2="222.55" stroke="#000" stroke-width="1.4"/>
<text transform="translate(342.3,359.29)" font-size="14.5" font-weight="normal" fill="#000" >0</text>
<text transform="translate(342.47,330.19)" font-size="14.5" font-weight="normal" fill="#000" >2</text>
<text transform="translate(342.16,301.09)" font-size="14.5" font-weight="normal" fill="#000" >4</text>
<text transform="translate(342.37,271.99)" font-size="14.5" font-weight="normal" fill="#000" >6</text>
<text transform="translate(342.37,242.89)" font-size="14.5" font-weight="normal" fill="#000" >8</text>
<line x1="353.9" y1="353.5" x2="451.4" y2="353.5" stroke="#000" stroke-width="1.4"/>
<line x1="404" y1="353.5" x2="404" y2="357" stroke="#000" stroke-width="1.4"/>
<line x1="451" y1="353.5" x2="451" y2="357" stroke="#000" stroke-width="1.4"/>
<rect x="362.9" y="338.95" width="10.5" height="14.55" fill="#c4ff3a" stroke="#000" stroke-width="1"/>
<line x1="368.15" y1="336.45" x2="368.15" y2="341.45" stroke="#000" stroke-width="1"/>
<line x1="365.65" y1="336.45" x2="370.65" y2="336.45" stroke="#000" stroke-width="1"/>
<line x1="365.65" y1="341.45" x2="370.65" y2="341.45" stroke="#000" stroke-width="1"/>
<rect x="373.4" y="242.77" width="10.9" height="110.73" fill="#ffff00" stroke="#000" stroke-width="1"/>
<line x1="378.85" y1="238.97" x2="378.85" y2="246.57" stroke="#000" stroke-width="1"/>
<line x1="376.35" y1="238.97" x2="381.35" y2="238.97" stroke="#000" stroke-width="1"/>
<line x1="376.35" y1="246.57" x2="381.35" y2="246.57" stroke="#000" stroke-width="1"/>
<rect x="384.3" y="332.98" width="10.8" height="20.52" fill="#ff8c00" stroke="#000" stroke-width="1"/>
<line x1="389.7" y1="330.48" x2="389.7" y2="335.48" stroke="#000" stroke-width="1"/>
<line x1="387.2" y1="330.48" x2="392.2" y2="330.48" stroke="#000" stroke-width="1"/>
<line x1="387.2" y1="335.48" x2="392.2" y2="335.48" stroke="#000" stroke-width="1"/>
<rect x="410.9" y="338.95" width="10.5" height="14.55" fill="#c4ff3a" stroke="#000" stroke-width="1"/>
<line x1="416.15" y1="336.45" x2="416.15" y2="341.45" stroke="#000" stroke-width="1"/>
<line x1="413.65" y1="336.45" x2="418.65" y2="336.45" stroke="#000" stroke-width="1"/>
<line x1="413.65" y1="341.45" x2="418.65" y2="341.45" stroke="#000" stroke-width="1"/>
<rect x="421.4" y="275.22" width="10.9" height="78.28" fill="#ffff00" stroke="#000" stroke-width="1"/>
<line x1="426.85" y1="271.42" x2="426.85" y2="279.02" stroke="#000" stroke-width="1"/>
<line x1="424.35" y1="271.42" x2="429.35" y2="271.42" stroke="#000" stroke-width="1"/>
<line x1="424.35" y1="279.02" x2="429.35" y2="279.02" stroke="#000" stroke-width="1"/>
<rect x="432.3" y="333.42" width="10.6" height="20.08" fill="#ff8c00" stroke="#000" stroke-width="1"/>
<line x1="437.6" y1="328.92" x2="437.6" y2="337.92" stroke="#000" stroke-width="1"/>
<line x1="435.1" y1="328.92" x2="440.1" y2="328.92" stroke="#000" stroke-width="1"/>
<line x1="435.1" y1="337.92" x2="440.1" y2="337.92" stroke="#000" stroke-width="1"/>
<text transform="translate(366.78,331.4)" font-size="9.5" font-weight="normal" fill="#000" >1</text>
<text transform="translate(385.38,325.7)" font-size="9.5" font-weight="normal" fill="#000" >1.41</text>
<text transform="translate(371.01,234)" font-size="9.5" font-weight="normal" fill="#000" >7.61</text>
<text transform="translate(414.78,331.4)" font-size="9.5" font-weight="normal" fill="#000" >1</text>
<text transform="translate(418.92,266.7)" font-size="9.5" font-weight="normal" fill="#000" >5.38</text>
<text transform="translate(433.08,325.7)" font-size="9.5" font-weight="normal" fill="#000" >1.38</text>
<polygon points="379.7,217.2 380.49,219.11 382.55,219.27 380.98,220.62 381.46,222.63 379.7,221.55 377.94,222.63 378.42,220.62 376.85,219.27 378.91,219.11" fill="#000"/>
<polygon points="426.4,249.4 427.19,251.31 429.25,251.47 427.68,252.82 428.16,254.83 426.4,253.75 424.64,254.83 425.12,252.82 423.55,251.47 425.61,251.31" fill="#000"/>
<rect x="405.5" y="205.6" width="5.8" height="5.8" fill="#c4ff3a" stroke="#000" stroke-width="1"/>
<text transform="translate(414.03,211)" font-size="11.3" font-weight="normal" fill="#000" >GFP</text>
<rect x="405.5" y="217.1" width="5.8" height="5.8" fill="#ffff00" stroke="#000" stroke-width="1"/>
<text transform="translate(413.87,221.6)" font-size="11.3" font-weight="normal" fill="#000" >parkin</text>
<rect x="405.5" y="228" width="5.8" height="5.8" fill="#ff8c00" stroke="#000" stroke-width="1"/>
<text transform="translate(414.35,235)" font-size="11.3" font-weight="normal" fill="#000" >T240R</text>
<text transform="translate(361.37,370.6)" font-size="15" font-weight="normal" fill="#000" >P001</text>
<text transform="translate(407.67,370.6)" font-size="15" font-weight="normal" fill="#000" >P002</text>
<text transform="translate(336,359.1) rotate(-90) scale(1,1)" x="-0.78" y="0" font-size="11.7" font-weight="bold">DA Uptake (fold of GFP)</text>
<text transform="translate(466.46,205.6)" font-size="22" font-weight="bold" fill="#000" >h</text>
<line x1="505.1" y1="237.78" x2="505.1" y2="354.1" stroke="#000" stroke-width="1.4"/>
<line x1="500.6" y1="353.4" x2="505.1" y2="353.4" stroke="#000" stroke-width="1.4"/>
<line x1="500.6" y1="334.13" x2="505.1" y2="334.13" stroke="#000" stroke-width="1.4"/>
<line x1="500.6" y1="314.86" x2="505.1" y2="314.86" stroke="#000" stroke-width="1.4"/>
<line x1="500.6" y1="295.59" x2="505.1" y2="295.59" stroke="#000" stroke-width="1.4"/>
<line x1="500.6" y1="276.32" x2="505.1" y2="276.32" stroke="#000" stroke-width="1.4"/>
<line x1="500.6" y1="257.05" x2="505.1" y2="257.05" stroke="#000" stroke-width="1.4"/>
<line x1="500.6" y1="237.78" x2="505.1" y2="237.78" stroke="#000" stroke-width="1.4"/>
<text transform="translate(494.05,357.51) scale(1,0.88)" font-size="11.5" font-weight="normal" fill="#000" >0</text>
<text transform="translate(484.57,338.24) scale(1,0.88)" font-size="11.5" font-weight="normal" fill="#000" >0.1</text>
<text transform="translate(484.59,318.97) scale(1,0.88)" font-size="11.5" font-weight="normal" fill="#000" >0.2</text>
<text transform="translate(484.52,299.7) scale(1,0.88)" font-size="11.5" font-weight="normal" fill="#000" >0.3</text>
<text transform="translate(484.35,280.43) scale(1,0.88)" font-size="11.5" font-weight="normal" fill="#000" >0.4</text>
<text transform="translate(484.5,261.16) scale(1,0.88)" font-size="11.5" font-weight="normal" fill="#000" >0.5</text>
<text transform="translate(484.52,241.89) scale(1,0.88)" font-size="11.5" font-weight="normal" fill="#000" >0.6</text>
<line x1="504.4" y1="353.3" x2="612.9" y2="353.3" stroke="#000" stroke-width="1.4"/>
<line x1="505.5" y1="353.3" x2="505.5" y2="355.8" stroke="#000" stroke-width="1.4"/>
<line x1="531.9" y1="353.3" x2="531.9" y2="355.8" stroke="#000" stroke-width="1.4"/>
<line x1="558.9" y1="353.3" x2="558.9" y2="355.8" stroke="#000" stroke-width="1.4"/>
<line x1="585.8" y1="353.3" x2="585.8" y2="355.8" stroke="#000" stroke-width="1.4"/>
<line x1="612.4" y1="353.3" x2="612.4" y2="355.8" stroke="#000" stroke-width="1.4"/>
<rect x="514.3" y="251.27" width="10.8" height="102.13" fill="#00f000" stroke="#000" stroke-width="1"/>
<line x1="519.7" y1="246.27" x2="519.7" y2="256.27" stroke="#000" stroke-width="1"/>
<line x1="517.2" y1="246.27" x2="522.2" y2="246.27" stroke="#000" stroke-width="1"/>
<line x1="517.2" y1="256.27" x2="522.2" y2="256.27" stroke="#000" stroke-width="1"/>
<rect x="540.6" y="264.76" width="10.8" height="88.64" fill="#0000ff" stroke="#000" stroke-width="1"/>
<line x1="546" y1="258.36" x2="546" y2="271.16" stroke="#000" stroke-width="1"/>
<line x1="543.5" y1="258.36" x2="548.5" y2="258.36" stroke="#000" stroke-width="1"/>
<line x1="543.5" y1="271.16" x2="548.5" y2="271.16" stroke="#000" stroke-width="1"/>
<rect x="567.1" y="303.3" width="10.9" height="50.1" fill="#ff0000" stroke="#000" stroke-width="1"/>
<line x1="572.55" y1="299.3" x2="572.55" y2="307.3" stroke="#000" stroke-width="1"/>
<line x1="570.05" y1="299.3" x2="575.05" y2="299.3" stroke="#000" stroke-width="1"/>
<line x1="570.05" y1="307.3" x2="575.05" y2="307.3" stroke="#000" stroke-width="1"/>
<rect x="593.7" y="314.86" width="11.2" height="38.54" fill="#ff00ff" stroke="#000" stroke-width="1"/>
<line x1="599.3" y1="309.36" x2="599.3" y2="320.36" stroke="#000" stroke-width="1"/>
<line x1="596.8" y1="309.36" x2="601.8" y2="309.36" stroke="#000" stroke-width="1"/>
<line x1="596.8" y1="320.36" x2="601.8" y2="320.36" stroke="#000" stroke-width="1"/>
<text transform="translate(507.54,242) scale(1,0.93)" font-size="11.7" font-weight="normal" fill="#000" >0.53</text>
<text transform="translate(535.34,256.1) scale(1,0.93)" font-size="11.7" font-weight="normal" fill="#000" >0.46</text>
<text transform="translate(562.84,297.1) scale(1,0.93)" font-size="11.7" font-weight="normal" fill="#000" >0.26</text>
<text transform="translate(589.94,307.1) scale(1,0.93)" font-size="11.7" font-weight="normal" fill="#000" >0.20</text>
<polygon points="573.5,280.6 574.29,282.51 576.35,282.67 574.78,284.02 575.26,286.03 573.5,284.95 571.74,286.03 572.22,284.02 570.65,282.67 572.71,282.51" fill="#000"/>
<polygon points="601.2,288.7 601.99,290.61 604.05,290.77 602.48,292.12 602.96,294.13 601.2,293.05 599.44,294.13 599.92,292.12 598.35,290.77 600.41,290.61" fill="#000"/>
<rect x="585.2" y="234.85" width="7.3" height="6.3" fill="#00f000" stroke="#000" stroke-width="1"/>
<text transform="translate(594.92,241.56) scale(1,0.9)" font-size="11.5" font-weight="normal" fill="#000" >C001</text>
<rect x="585.2" y="245.05" width="7.3" height="6.3" fill="#0000ff" stroke="#000" stroke-width="1"/>
<text transform="translate(594.92,251.76) scale(1,0.9)" font-size="11.5" font-weight="normal" fill="#000" >C002</text>
<rect x="585.2" y="254.45" width="7.3" height="6.3" fill="#ff0000" stroke="#000" stroke-width="1"/>
<text transform="translate(594.56,261.16) scale(1,0.9)" font-size="11.5" font-weight="normal" fill="#000" >P001</text>
<rect x="585.2" y="264.35" width="7.3" height="6.3" fill="#ff00ff" stroke="#000" stroke-width="1"/>
<text transform="translate(594.56,271.06) scale(1,0.9)" font-size="11.5" font-weight="normal" fill="#000" >P002</text>
<rect x="507.9" y="196.9" width="96.4" height="28.9" fill="#7e7e7e" stroke="#000" stroke-width="1.8"/>
<rect x="512.2" y="208.6" width="21.2" height="8.2" rx="4" ry="4" fill="#2c2c2c"/>
<rect x="536.2" y="208.6" width="21" height="8.2" rx="4" ry="4" fill="#2c2c2c"/>
<rect x="559.1" y="208.6" width="19.7" height="8.2" rx="4" ry="4" fill="#2c2c2c"/>
<rect x="580.3" y="208.6" width="21" height="8.2" rx="4" ry="4" fill="#2c2c2c"/>
<text transform="translate(480.76,217.7)" font-size="11.5" font-weight="normal" fill="#000" >DAT</text>
<line x1="607.2" y1="212.1" x2="610.6" y2="212.1" stroke="#000" stroke-width="1.3"/>
<text transform="translate(614.01,215.9)" font-size="11.6" font-weight="normal" fill="#000" >77kD</text>
<text transform="translate(505.47,370)" font-size="11.7" font-weight="normal" fill="#000" >Specific CFT binding</text>
<text transform="translate(481.5,368.5) rotate(-90) scale(1,1)" x="-0.48" y="0" font-size="11.7" font-weight="bold">CFT (pmoles/mg protein )</text>
<text transform="translate(647.66,204.6)" font-size="22" font-weight="bold" fill="#000" >i</text>
<line x1="685.2" y1="237.9" x2="685.2" y2="354.2" stroke="#000" stroke-width="1.4"/>
<line x1="680.7" y1="353.5" x2="685.2" y2="353.5" stroke="#000" stroke-width="1.4"/>
<line x1="680.7" y1="324.6" x2="685.2" y2="324.6" stroke="#000" stroke-width="1.4"/>
<line x1="680.7" y1="295.7" x2="685.2" y2="295.7" stroke="#000" stroke-width="1.4"/>
<line x1="680.7" y1="266.8" x2="685.2" y2="266.8" stroke="#000" stroke-width="1.4"/>
<line x1="680.7" y1="237.9" x2="685.2" y2="237.9" stroke="#000" stroke-width="1.4"/>
<text transform="translate(672.95,357.68) scale(1,0.88)" font-size="11.7" font-weight="normal" fill="#000" >0</text>
<text transform="translate(663.23,328.78) scale(1,0.88)" font-size="11.7" font-weight="normal" fill="#000" >0.5</text>
<text transform="translate(663.19,299.88) scale(1,0.88)" font-size="11.7" font-weight="normal" fill="#000" >1.0</text>
<text transform="translate(663.23,270.98) scale(1,0.88)" font-size="11.7" font-weight="normal" fill="#000" >1.5</text>
<text transform="translate(663.19,242.08) scale(1,0.88)" font-size="11.7" font-weight="normal" fill="#000" >2.0</text>
<line x1="684.5" y1="353.4" x2="792.9" y2="353.4" stroke="#000" stroke-width="1.4"/>
<line x1="738.6" y1="353.4" x2="738.6" y2="356.9" stroke="#000" stroke-width="1.4"/>
<line x1="792.5" y1="353.4" x2="792.5" y2="356.9" stroke="#000" stroke-width="1.4"/>
<rect x="694.3" y="295.7" width="12.3" height="57.8" fill="#c4ff3a" stroke="#000" stroke-width="1"/>
<line x1="700.45" y1="294.7" x2="700.45" y2="296.7" stroke="#000" stroke-width="1"/>
<line x1="697.95" y1="294.7" x2="702.95" y2="294.7" stroke="#000" stroke-width="1"/>
<line x1="697.95" y1="296.7" x2="702.95" y2="296.7" stroke="#000" stroke-width="1"/>
<rect x="706.6" y="263.91" width="12" height="89.59" fill="#ffff00" stroke="#000" stroke-width="1"/>
<line x1="712.6" y1="258.51" x2="712.6" y2="269.31" stroke="#000" stroke-width="1"/>
<line x1="710.1" y1="258.51" x2="715.1" y2="258.51" stroke="#000" stroke-width="1"/>
<line x1="710.1" y1="269.31" x2="715.1" y2="269.31" stroke="#000" stroke-width="1"/>
<rect x="718.6" y="300.9" width="12.3" height="52.6" fill="#ff8c00" stroke="#000" stroke-width="1"/>
<line x1="724.75" y1="298.4" x2="724.75" y2="303.4" stroke="#000" stroke-width="1"/>
<line x1="722.25" y1="298.4" x2="727.25" y2="298.4" stroke="#000" stroke-width="1"/>
<line x1="722.25" y1="303.4" x2="727.25" y2="303.4" stroke="#000" stroke-width="1"/>
<rect x="748" y="295.7" width="12" height="57.8" fill="#c4ff3a" stroke="#000" stroke-width="1"/>
<line x1="754" y1="294.7" x2="754" y2="296.7" stroke="#000" stroke-width="1"/>
<line x1="751.5" y1="294.7" x2="756.5" y2="294.7" stroke="#000" stroke-width="1"/>
<line x1="751.5" y1="296.7" x2="756.5" y2="296.7" stroke="#000" stroke-width="1"/>
<rect x="760" y="265.64" width="12" height="87.86" fill="#ffff00" stroke="#000" stroke-width="1"/>
<line x1="766" y1="254.24" x2="766" y2="277.04" stroke="#000" stroke-width="1"/>
<line x1="763.5" y1="254.24" x2="768.5" y2="254.24" stroke="#000" stroke-width="1"/>
<line x1="763.5" y1="277.04" x2="768.5" y2="277.04" stroke="#000" stroke-width="1"/>
<rect x="772" y="292.81" width="12.3" height="60.69" fill="#ff8c00" stroke="#000" stroke-width="1"/>
<line x1="778.15" y1="287.81" x2="778.15" y2="297.81" stroke="#000" stroke-width="1"/>
<line x1="775.65" y1="287.81" x2="780.65" y2="287.81" stroke="#000" stroke-width="1"/>
<line x1="775.65" y1="297.81" x2="780.65" y2="297.81" stroke="#000" stroke-width="1"/>
<text transform="translate(697.52,291.4)" font-size="11.5" font-weight="normal" fill="#000" >1</text>
<text transform="translate(700.72,255.4)" font-size="11.5" font-weight="normal" fill="#000" >1.55</text>
<text transform="translate(720.85,295.7)" font-size="11.5" font-weight="normal" fill="#000" >0.91</text>
<text transform="translate(750.42,291.4)" font-size="11.5" font-weight="normal" fill="#000" >1</text>
<text transform="translate(755.32,249.1)" font-size="11.5" font-weight="normal" fill="#000" >1.52</text>
<text transform="translate(771.52,285.7)" font-size="11.5" font-weight="normal" fill="#000" >1.05</text>
<polygon points="712.2,238.6 712.99,240.51 715.05,240.67 713.48,242.02 713.96,244.03 712.2,242.95 710.44,244.03 710.92,242.02 709.35,240.67 711.41,240.51" fill="#000"/>
<polygon points="765.8,233.6 766.59,235.51 768.65,235.67 767.08,237.02 767.56,239.03 765.8,237.95 764.04,239.03 764.52,237.02 762.95,235.67 765.01,235.51" fill="#000"/>
<rect x="689.6" y="197.85" width="5.5" height="5.5" fill="#c4ff3a" stroke="#000" stroke-width="1"/>
<text transform="translate(697.92,203.1)" font-size="11.5" font-weight="normal" fill="#000" >GFP</text>
<rect x="689.6" y="209.05" width="5.5" height="5.5" fill="#ffff00" stroke="#000" stroke-width="1"/>
<text transform="translate(697.76,213.6)" font-size="11.5" font-weight="normal" fill="#000" >parkin</text>
<rect x="689.6" y="220.15" width="5.5" height="5.5" fill="#ff8c00" stroke="#000" stroke-width="1"/>
<text transform="translate(698.24,227.1)" font-size="11.5" font-weight="normal" fill="#000" >T240R</text>
<text transform="translate(697.93,367.1)" font-size="11.8" font-weight="normal" fill="#000" >P001</text>
<text transform="translate(752.23,367.1)" font-size="11.8" font-weight="normal" fill="#000" >P002</text>
<text transform="translate(658.8,360.9) rotate(-90) scale(1,1)" x="-0.48" y="0" font-size="11.7" font-weight="bold">CFT Binding (fold of GFP)</text>
</svg>
</body></html>
